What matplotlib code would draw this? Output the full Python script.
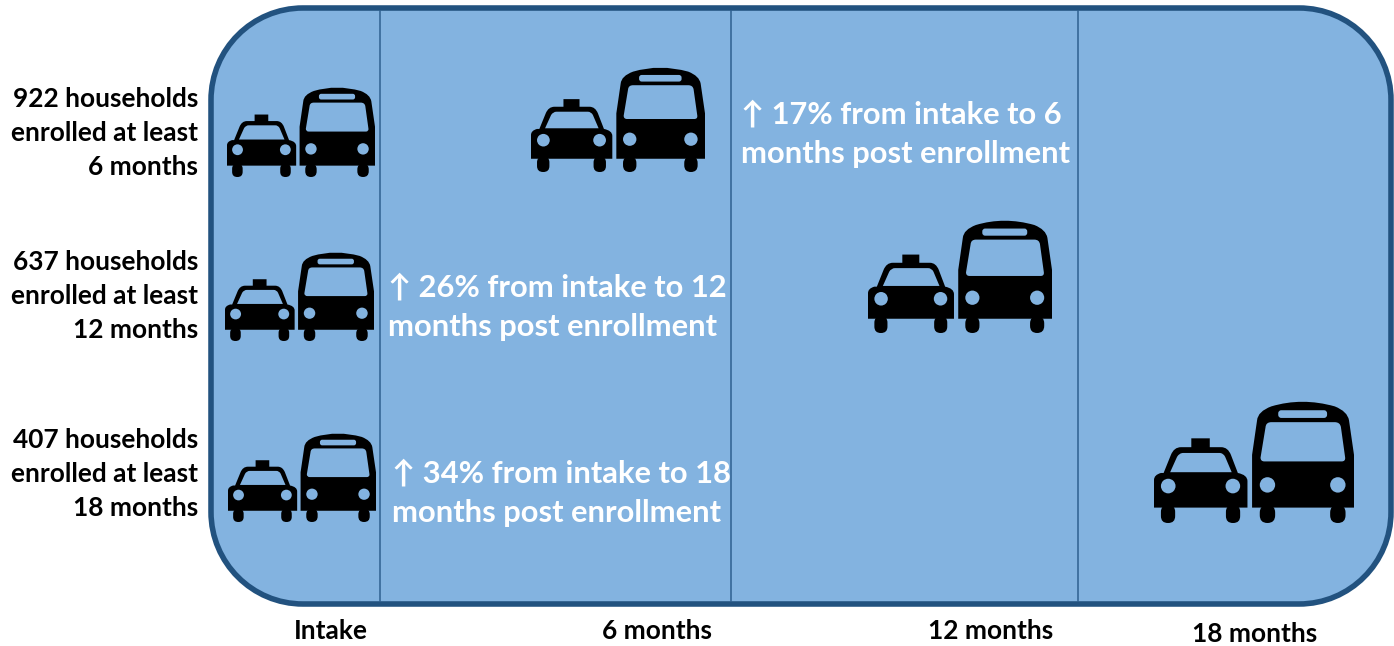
import matplotlib
matplotlib.use("Agg")
import matplotlib.pyplot as plt
from matplotlib.patches import PathPatch, Ellipse
from matplotlib.path import Path
from matplotlib.transforms import Affine2D

# timepoints
time_labels = ["Intake", "6 months", "12 months", "18 months"]
time_x = [331, 657, 991, 1255]
time_y = [631, 631, 631, 634]
dividers = [380, 731, 1078]

# left labels
group_labels = [
    "922 households\nenrolled at least\n6 months",
    "637 households\nenrolled at least\n12 months",
    "407 households\nenrolled at least\n18 months",
]
group_y = [133, 296, 474]

# white annotations
note_labels = [
    "↑ 17% from intake to 6\nmonths post enrollment",
    "↑ 26% from intake to 12\nmonths post enrollment",
    "↑ 34% from intake to 18\nmonths post enrollment",
]
note_x = [741, 388, 392]
note_y = [134.5, 307.5, 493.5]

# taxi+bus icons: left, right, top, bottom in pixels
icon_left = [227, 531, 868, 225, 228, 1154]
icon_right = [375, 705, 1052, 374, 376, 1354]
icon_top = [87, 67, 220, 252, 433, 401]
icon_bottom = [177, 172, 333, 341, 522, 523]

BLUE = "#83B3E0"
EDGE = "#22527F"
FONT = ["Lato", "DejaVu Sans"]

M, L, C, Z = Path.MOVETO, Path.LINETO, Path.CURVE3, Path.CLOSEPOLY


def shape(ops):
    verts, codes = [], []
    for op, *pts in ops:
        for p in pts:
            verts.append(p)
            codes.append(op)
    verts.append(verts[0])
    codes.append(Z)
    return Path(verts, codes)


def pill(x0, x1, y0, y1, r):
    return shape([(M, (x0 + r, y0)), (L, (x1 - r, y0)), (C, (x1, y0), (x1, y0 + r)),
                  (L, (x1, y1 - r)), (C, (x1, y1), (x1 - r, y1)), (L, (x0 + r, y1)),
                  (C, (x0, y1), (x0, y1 - r)), (L, (x0, y0 + r)), (C, (x0, y0), (x0 + r, y0))])


def rounded_frame(x0, x1, y0, y1, r):
    k = 0.5523 * r
    C4 = Path.CURVE4
    verts = [(x0 + r, y0), (x1 - r, y0),
             (x1 - r + k, y0), (x1, y0 + r - k), (x1, y0 + r), (x1, y1 - r),
             (x1, y1 - r + k), (x1 - r + k, y1), (x1 - r, y1), (x0 + r, y1),
             (x0 + r - k, y1), (x0, y1 - r + k), (x0, y1 - r), (x0, y0 + r),
             (x0, y0 + r - k), (x0 + r - k, y0), (x0 + r, y0), (x0 + r, y0)]
    codes = [M, L, C4, C4, C4, L, C4, C4, C4, L, C4, C4, C4, L, C4, C4, C4, Z]
    return Path(verts, codes)


# icon outlines, in a 520x317 box
TAXI_BODY = shape([(M, (0, 277)), (L, (0, 205)), (C, (0, 192), (18, 187)), (L, (25, 187)),
                   (L, (44, 140)), (C, (52, 120), (70, 120)), (L, (97, 120)), (L, (97, 97)),
                   (L, (145, 97)), (L, (145, 120)), (L, (175, 120)), (C, (192, 120), (200, 140)),
                   (L, (218, 187)), (C, (243, 192), (243, 208)), (L, (243, 277))])
TAXI_WINDOW = shape([(M, (42, 185)), (L, (60, 145)), (C, (66, 135), (76, 135)), (L, (170, 135)),
                     (C, (180, 135), (185, 145)), (L, (202, 185))])
BUS_BODY = shape([(M, (255, 277)), (L, (255, 140)), (L, (268, 50)), (C, (270, 27), (305, 14)),
                  (C, (385, -10), (470, 14)), (C, (503, 27), (507, 50)), (L, (520, 140)),
                  (L, (520, 277))])
BUS_WINDOW = shape([(M, (277, 147)), (L, (290, 68)), (C, (291, 55), (305, 55)), (L, (470, 55)),
                    (C, (484, 55), (486, 68)), (L, (497, 147)), (C, (498, 157), (488, 157)),
                    (L, (287, 157)), (C, (277, 157), (277, 147))])
BUS_SLOT = pill(323, 450, 24, 44, 8)
WHEELS = [pill(18, 55, 270, 317, 18), pill(187, 224, 270, 317, 18),
          pill(275, 315, 270, 317, 20), pill(458, 498, 270, 317, 20)]
LIGHTS = [(37, 221, 19), (205, 221, 19), (295, 218, 20), (478, 218, 20)]


def draw_icon(ax, left, right, top, bottom):
    tr = Affine2D().scale((right - left) / 520, (bottom - top) / 317).translate(left, top)
    for p in [TAXI_BODY, BUS_BODY] + WHEELS:
        ax.add_patch(PathPatch(p.transformed(tr), fc="black", ec="none", zorder=3))
    for p in [TAXI_WINDOW, BUS_WINDOW, BUS_SLOT]:
        ax.add_patch(PathPatch(p.transformed(tr), fc=BLUE, ec="none", zorder=4))
    for cx, cy, r in LIGHTS:
        ax.add_patch(Ellipse(tr.transform((cx, cy)), 2 * r * (right - left) / 520,
                             2 * r * (bottom - top) / 317, fc=BLUE, ec="none", zorder=4))


fig = plt.figure(figsize=(13.94, 6.46), dpi=100)
ax = fig.add_axes([0, 0, 1, 1])
ax.set_xlim(0, 1394)
ax.set_ylim(646, 0)
ax.axis("off")

ax.add_patch(PathPatch(rounded_frame(211, 1391, 8, 604, 92), fc=BLUE, ec=EDGE, lw=4, zorder=1))
for x in dividers:
    ax.plot([x, x], [10, 602], color="#2F6090", lw=1.1, zorder=2, solid_capstyle="butt")

for i in range(len(icon_left)):
    draw_icon(ax, icon_left[i], icon_right[i], icon_top[i], icon_bottom[i])

for label, y in zip(group_labels, group_y):
    ax.text(198, y, label, ha="right", va="center", family=FONT, fontweight="bold",
            fontsize=18.9, color="black", linespacing=1.5)
for label, x, y in zip(note_labels, note_x, note_y):
    ax.text(x, y, label, ha="left", va="center", family=FONT, fontweight="bold",
            fontsize=22.2, color="white", linespacing=1.52, zorder=5)
for label, x, y in zip(time_labels, time_x, time_y):
    ax.text(x, y, label, ha="center", va="center", family=FONT, fontweight="bold",
            fontsize=18.9, color="black")

fig.savefig("out.png", dpi=100)
